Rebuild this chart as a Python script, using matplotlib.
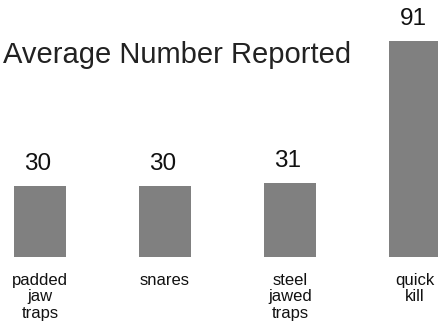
import matplotlib
matplotlib.use("Agg")
import matplotlib.pyplot as plt

plt.rcParams['font.family'] = ['Liberation Sans', 'DejaVu Sans']

categories = ["padded\njaw\ntraps", "snares", "steel\njawed\ntraps", "quick\nkill"]
values = [30, 30, 31, 91]
title = "Average Number Reported"

fig = plt.figure(figsize=(4.38, 3.21), dpi=100)
ax = fig.add_axes([0, 0, 1, 1])

positions = list(range(len(values)))
ax.bar(positions, values, width=0.416, color="#808080")

# value on top, category name below each bar
for pos, val, name in zip(positions, values, categories):
    ax.annotate(str(val), (pos, val), xytext=(-1.5, 11.5), textcoords="offset points",
                ha="center", va="baseline", fontsize=17.5, color="#111111")
    ax.annotate(name, (pos, 0), xytext=(0, -11.5),
                textcoords="offset points", ha="center", va="top",
                fontsize=12, linespacing=1.12, color="#111111")

ax.set_xlim(-0.32, 3.184)
ax.set_ylim(-27.1, 108.3)
ax.axis("off")

fig.text(0.006, 1 - 63.3 / 321, title, fontsize=21, color="#222222",
         ha="left", va="baseline")

fig.savefig("out.png", dpi=100)
